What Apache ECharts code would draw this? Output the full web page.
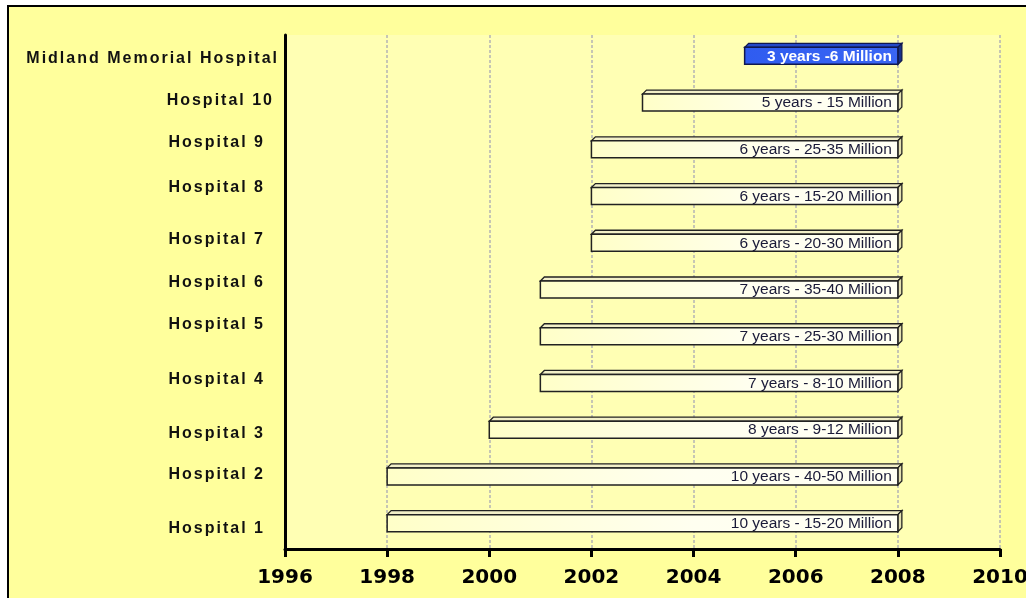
<!DOCTYPE html>
<html>
<head>
<meta charset="utf-8">
<script src="https://cdn.jsdelivr.net/npm/echarts@6/dist/echarts.min.js"></script>
<style>
  html, body { margin: 0; padding: 0; background: #ffffff; overflow: hidden; }
  #frame { position: absolute; left: 7px; top: 5px; width: 1100px; height: 700px;
           border: 2px solid #000; background: #FFFF9C; }
  #chart { position: absolute; left: 0; top: 0; width: 1026px; height: 598px; }
</style>
</head>
<body>
<div id="frame"></div>
<div id="chart"></div>
<script>
// ---- data ----
const categories = ['Hospital 1', 'Hospital 2', 'Hospital 3', 'Hospital 4', 'Hospital 5',
  'Hospital 6', 'Hospital 7', 'Hospital 8', 'Hospital 9', 'Hospital 10', 'Midland Memorial Hospital'];
const startYears = [1998, 1998, 2000, 2001, 2001, 2001, 2002, 2002, 2002, 2003, 2005];
const endYears   = [2008, 2008, 2008, 2008, 2008, 2008, 2008, 2008, 2008, 2008, 2008];
const barLabels = ['10 years - 15-20 Million', '10 years - 40-50 Million', '8 years - 9-12 Million',
  '7 years - 8-10 Million', '7 years - 25-30 Million', '7 years - 35-40 Million',
  '6 years - 20-30 Million', '6 years - 15-20 Million', '6 years - 25-35 Million',
  '5 years - 15 Million', '3 years -6 Million'];
const xMin = 1996, xMax = 2010, xInterval = 2;
const highlighted = 'Midland Memorial Hospital';

// ---- style: small nudges of the y-axis labels (px), as in the original ----
const labelNudgeY = [3, -4, 1, -6, -14, -9, -6, -11, -9, -4, 0];   // + = down
const labelNudgeX = [14, 14, 14, 14, 14, 14, 14, 14, 14, 5, 0];   // extra right gap

// letter-spaced y-axis labels: text drawn with a marked font family is drawn glyph by glyph
(function () {
  const proto = CanvasRenderingContext2D.prototype;
  const orig = proto.fillText;
  const SPACING = 2;
  proto.fillText = function (t, x, y, w) {
    const f = this.font || '';
    if (f.indexOf('zzspaced') < 0 || typeof t !== 'string' || t.length < 2) {
      return w === undefined ? orig.call(this, t, x, y) : orig.call(this, t, x, y, w);
    }
    const chars = Array.from(t);
    const widths = chars.map(c => this.measureText(c).width);
    const total = widths.reduce((a, b) => a + b, 0) + SPACING * (chars.length - 1);
    const align = this.textAlign;
    let sx = x;
    if (align === 'right' || align === 'end') sx = x - total;
    else if (align === 'center') sx = x - total / 2;
    this.textAlign = 'left';
    for (let i = 0; i < chars.length; i++) {
      orig.call(this, chars[i], sx, y);
      sx += widths[i] + SPACING;
    }
    this.textAlign = align;
  };
})();

const seriesData = categories.map((c, i) => [i, startYears[i], endYears[i], barLabels[i]]);

const yLabelFont = '"Liberation Sans", zzspaced, Arial, sans-serif';
const richStyles = {};
labelNudgeY.forEach((n, i) => {
  richStyles['n' + i] = {
    fontSize: 16, fontWeight: 'bold', color: '#111', fontFamily: yLabelFont,
    padding: [n > 0 ? 2 * n : 0, labelNudgeX[i], n < 0 ? -2 * n : 0, 0]
  };
});

const chart = echarts.init(document.getElementById('chart'), null, { renderer: 'canvas' });

function renderItem(params, api) {
  const idx = params.dataIndex;
  const cat = api.value(0);
  const p0 = api.coord([api.value(1), cat]);
  const p1 = api.coord([api.value(2), cat]);
  const h = 17, d = 4;
  const cy = p0[1] - 2.5;
  const x0 = p0[0], x1 = p1[0];
  const y0 = cy - h / 2, y1 = cy + h / 2;
  const hl = categories[idx] === highlighted;
  const stroke = hl ? '#101850' : '#222222';
  const topFill = hl ? '#2448C8' : '#F2EFC8';
  const sideFill = hl ? '#17308A' : '#E4E0B0';
  const frontFill = hl
    ? new echarts.graphic.LinearGradient(0, 0, 1, 0, [{ offset: 0, color: '#2F5CF0' }, { offset: 1, color: '#3A66F4' }])
    : new echarts.graphic.LinearGradient(0, 0, 1, 0, [{ offset: 0, color: '#FFFFC8' }, { offset: 0.6, color: '#FFFFF0' }, { offset: 1, color: '#FFFFF4' }]);
  return {
    type: 'group',
    children: [
      { type: 'polygon', shape: { points: [[x0, y0], [x0 + d, y0 - d], [x1 + d, y0 - d], [x1, y0]] },
        style: { fill: topFill, stroke: stroke, lineWidth: 1.3 } },
      { type: 'polygon', shape: { points: [[x1, y0], [x1 + d, y0 - d], [x1 + d, y1 - d], [x1, y1]] },
        style: { fill: sideFill, stroke: stroke, lineWidth: 1.3 } },
      { type: 'rect', shape: { x: x0, y: y0, width: x1 - x0, height: h },
        style: { fill: frontFill, stroke: stroke, lineWidth: 1.5 } },
      { type: 'text', style: {
          text: api.value(3), x: x1 - 6, y: cy + 0.5, align: 'right', verticalAlign: 'middle',
          fill: hl ? '#FFFFFF' : '#1A1A38',
          font: (hl ? 'bold ' : '') + '15.5px "Liberation Sans", Arial, sans-serif' } }
    ]
  };
}

chart.setOption({
  backgroundColor: 'transparent',
  animation: false,
  grid: { left: 285, right: 26, top: 35, bottom: 49, show: true, backgroundColor: '#FFFFB4',
          borderWidth: 0, containLabel: false, outerBoundsMode: 'none' },
  xAxis: {
    type: 'value', min: xMin, max: xMax, interval: xInterval,
    axisLine: { show: true, lineStyle: { color: '#000', width: 3 } },
    axisTick: { show: true, length: 8, lineStyle: { color: '#000', width: 3 } },
    axisLabel: { margin: 19, color: '#000', fontSize: 20, fontWeight: 'bold',
                 fontFamily: '"DejaVu Sans", Verdana, sans-serif',
                 formatter: v => String(v) },
    splitLine: { show: true, lineStyle: { color: '#B4B4B4', width: 1.5, type: [3, 2] } }
  },
  yAxis: {
    type: 'category', data: categories,
    axisLine: { show: true, lineStyle: { color: '#000', width: 3 } },
    axisTick: { show: false },
    splitLine: { show: false },
    axisLabel: { interval: 0, margin: 8, color: '#111', fontSize: 16, fontWeight: 'bold',
                 fontFamily: yLabelFont,
                 formatter: (v, i) => '{n' + i + '|' + v + '}',
                 rich: richStyles }
  },
  series: [{
    type: 'custom',
    renderItem: renderItem,
    encode: { x: [1, 2], y: 0 },
    data: seriesData,
    silent: true,
    clip: false
  }]
});
</script>
</body>
</html>
